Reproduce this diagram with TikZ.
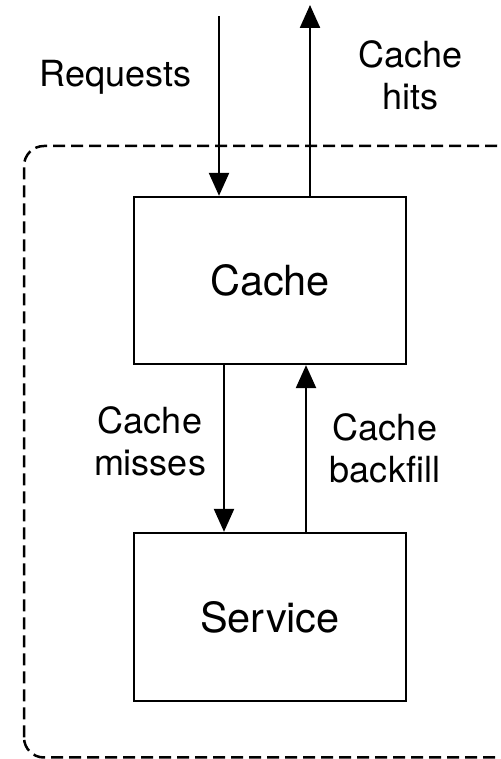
\documentclass[tikz,border=0pt]{standalone}
\usepackage{fontspec}
\setmainfont{TeX Gyre Heros}
\usetikzlibrary{arrows.meta}
\begin{document}
\begin{tikzpicture}[x=1pt,y=1pt,
  box/.style={draw, line width=2.3pt, minimum width=272pt, inner sep=0pt,
              font=\fontsize{41.5}{48}\selectfont},
  flow/.style={line width=2.3pt, -{Triangle[length=23pt,width=20pt]}},
  lbl/.style={align=center, inner sep=0pt, font=\fontsize{36}{42}\selectfont},
  boundary/.style={line width=2.5pt, dash pattern=on 12pt off 6pt, rounded corners=20pt}]
\useasboundingbox (0,0) rectangle (500,759);
\clip (0,0) rectangle (500,759);

% system boundary (runs off the right edge)
\draw[boundary] (24,1.5) rectangle (517,613);

% components
\node[box, minimum height=167pt] (cache) at (270,478.5) {Cache};
\node[box, minimum height=168pt] (service) at (270,142) {Service};

% external traffic
\coordinate (reqin) at (219,743);
\coordinate (hitsout) at (310,754);
\draw[flow] (reqin) -- (reqin |- cache.north);
\draw[flow] (hitsout |- cache.north) -- (hitsout);

% cache <-> service
\draw[flow] ([xshift=-46pt]cache.south) -- ([xshift=-46pt]service.north);
\draw[flow] ([xshift=36pt]service.north) -- ([xshift=36pt]cache.south);

% labels
\node[lbl, anchor=base] (lreq) at (115.5,672) {Requests};
\node[lbl] (lhits) at (410.5,684) {Cache\\hits};
\node[lbl] (lmiss) at (150,318) {Cache\\misses};
\node[lbl] (lback) at (385,311) {Cache\\backfill};
\end{tikzpicture}
\end{document}
